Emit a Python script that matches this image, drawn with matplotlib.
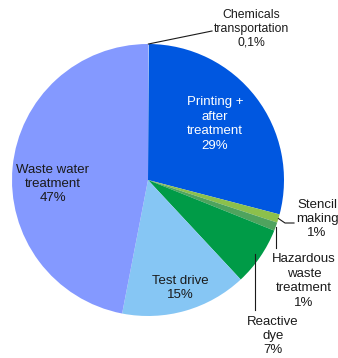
import numpy as np
import matplotlib
matplotlib.use("Agg")
import matplotlib.pyplot as plt

plt.rcParams['font.family'] = ['Liberation Sans', 'DejaVu Sans']

# Share of impact per process step (%)
categories = ["Chemicals\ntransportation", "Printing +\nafter\ntreatment", "Stencil\nmaking",
              "Hazardous\nwaste\ntreatment", "Reactive\ndye", "Test drive", "Waste water\ntreatment"]
values = [0.1, 29, 1, 1, 7, 15, 47]
value_labels = ["0,1%", "29%", "1%", "1%", "7%", "15%", "47%"]
colors = ["#C8D4FF", "#0057E0", "#8CC04C", "#4FA35E", "#009B47", "#86C6F4", "#8499FF"]

W, H = 338, 358
fig = plt.figure(figsize=(W / 100, H / 100), dpi=100)
ax = fig.add_axes([0, 0, 1, 1])

cx, cy, r = 148, 178, 136
wedges, _ = ax.pie(values, colors=colors, startangle=90, counterclock=False,
                   center=(cx, cy), radius=r, wedgeprops=dict(linewidth=0),
                   frame=True)
ax.set_xlim(0, W)
ax.set_ylim(0, H)
ax.set_aspect("equal")
ax.axis("off")


def edge_point(w, rad=r):
    a = np.deg2rad((w.theta1 + w.theta2) / 2)
    return cx + rad * np.cos(a), cy + rad * np.sin(a)


def Y(y):
    return H - y


txt = dict(ha="center", va="center", linespacing=1.27, color="#1a1a1a")
lc = dict(color="#1a1a1a", lw=0.8)

# Inside labels
ax.text(215, Y(124), categories[1] + "\n" + value_labels[1], fontsize=9.5,
        **{**txt, "color": "white"})
ax.text(180, Y(288), categories[5] + "\n" + value_labels[5], fontsize=9.5, **txt)
ax.text(53, Y(184), categories[6] + "\n" + value_labels[6], fontsize=9.5, **txt)

# Chemicals transportation
px, py = edge_point(wedges[0])
ax.plot([px, 212], [py, Y(31)], **lc)
ax.text(251, Y(29), categories[0] + "\n" + value_labels[0], fontsize=8.8,
        **{**txt, "linespacing": 1.22})

# Stencil making
px, py = edge_point(wedges[2])
ax.plot([px, 285, 294], [py, Y(223), Y(223)], **lc)
ax.text(317, Y(219), categories[2] + "\n" + value_labels[2], fontsize=9.5, **txt)

# Hazardous waste treatment
px, py = edge_point(wedges[3])
ax.plot([px, px], [py, Y(248)], **lc)
ax.text(304, Y(281), categories[3] + "\n" + value_labels[3], fontsize=9.5, **txt)

# Reactive dye
px, py = edge_point(wedges[4], r - 6)
ax.plot([px, px], [py, Y(310)], **lc)
ax.text(273, Y(336), categories[4] + "\n" + value_labels[4], fontsize=9.5, **txt)

fig.savefig("out.png", dpi=100, facecolor="white")
